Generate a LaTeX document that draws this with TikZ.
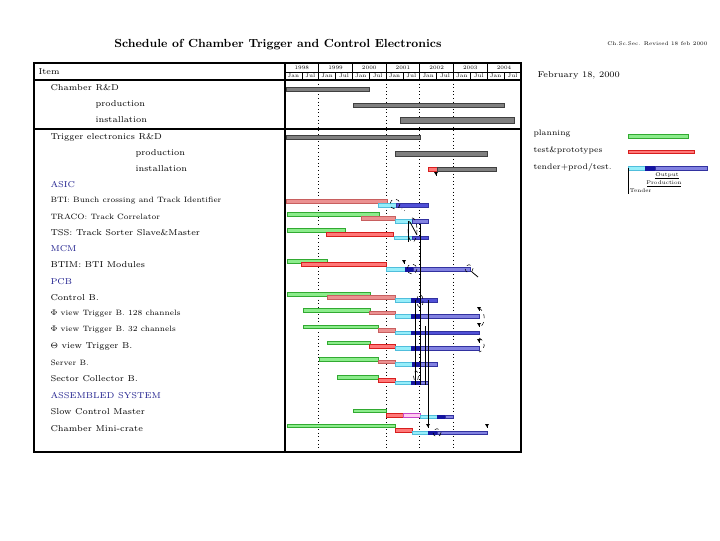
\documentclass[tikz,border=0pt]{standalone}
\usepackage{tikz}

\definecolor{plangreen}{RGB}{140,236,140}
\definecolor{planline}{RGB}{50,170,50}
\definecolor{testred}{RGB}{255,120,120}
\definecolor{testline}{RGB}{215,30,30}
\definecolor{oldred}{RGB}{235,145,145}
\definecolor{oldline}{RGB}{200,95,95}
\definecolor{tendcyan}{RGB}{150,238,250}
\definecolor{tendline}{RGB}{80,190,220}
\definecolor{outblue}{RGB}{20,20,160}
\definecolor{prodblue}{RGB}{130,130,225}
\definecolor{prodblue2}{RGB}{80,80,215}
\definecolor{prodline}{RGB}{50,50,160}
\definecolor{pinkbar}{RGB}{255,205,240}
\definecolor{pinkline}{RGB}{200,70,200}
\definecolor{grpblue}{RGB}{28,28,140}

\tikzset{every picture/.style={line width=0.75pt}}

% one bar of the schedule: style, from, to, row centre
\newcommand{\gbar}[4]{\draw[#1] (#2,#4-1.8) rectangle (#3,#4+1.8);}
% milestone mark
\newcommand{\mstone}[2]{\fill (#1-2,#2-2) -- (#1+2,#2-2) -- (#1,#2+1.2) -- cycle; \draw[line width=0.5pt] (#1,#2) -- (#1,#2+2);}

\begin{document}
\begin{tikzpicture}[x=0.75pt,y=0.75pt,yscale=-1,xscale=1,
  lbl/.style={anchor=west,inner sep=0pt,font=\fontsize{6.4}{7.5}\selectfont},
  slbl/.style={lbl,font=\fontsize{5.8}{7}\selectfont},
  grp/.style={lbl,text=grpblue},
  leg/.style={lbl,font=\fontsize{6}{7}\selectfont},
  hdr/.style={inner sep=0pt,font=\fontsize{4}{4.5}\selectfont},
  plan/.style={draw=planline,fill=plangreen,line width=0.3pt},
  test/.style={draw=testline,fill=testred,line width=0.3pt},
  oldtest/.style={draw=oldline,fill=oldred,line width=0.3pt},
  tend/.style={draw=tendline,fill=tendcyan,line width=0.3pt},
  outp/.style={draw=outblue,fill=outblue,line width=0.3pt},
  prod/.style={draw=prodline,fill=prodblue,line width=0.3pt},
  prodd/.style={draw=prodline,fill=prodblue2,line width=0.3pt},
  pinkb/.style={draw=pinkline,fill=pinkbar,line width=0.3pt},
  done/.style={draw=black!75,fill=black!50,line width=0.3pt},
  yeargrid/.style={dotted,line width=0.7pt},
  link/.style={line width=0.6pt},
  ring/.style={dashed,line width=0.4pt}]
    \useasboundingbox (0,0) rectangle (720,540);

    % Title
    \node[font=\fontsize{8.8}{10}\bfseries\selectfont] (title) at (278,45) {Schedule of Chamber Trigger and Control Electronics};
    \node[hdr,anchor=east] (rev) at (708,44) {Ch.Sc.Sec. Revised 18 feb 2000};
    \node[lbl] (date) at (537,75) {February 18, 2000};

    %Shape: Frame
    \draw[line width=1.4pt] (34,63) rectangle (521,452);
    \draw[line width=1.4pt] (285,63) -- (285,452);
    \draw[line width=1.4pt] (34,80) -- (521,80);
    \draw[line width=1.4pt] (34,129) -- (521,129);
    \draw[line width=0.6pt] (285,72) -- (521,72);
    \foreach \i in {1,...,6} \draw[line width=0.6pt] (285+33.7*\i,63) -- (285+33.7*\i,80);
    \foreach \i in {0,...,6} \draw[line width=0.4pt] (301.85+33.7*\i,72) -- (301.85+33.7*\i,80);
    \foreach \yr [count=\i from 0] in {1998,...,2004} \node[hdr] (y\yr) at (301.85+33.7*\i,67.6) {\yr};
    \foreach \i in {0,...,6} {
      \node[hdr] (jan\i) at (293.4+33.7*\i,76.2) {Jan};
      \node[hdr] (jul\i) at (310.3+33.7*\i,76.2) {Jul};
    }
    % year marks
    \foreach \xg in {318.7,386.1,419.8,453.5} \draw[yeargrid] (\xg,80) -- (\xg,452);

    % Text Node: items
    \node[lbl] (item) at (38,72) {Item};
    \node[lbl] (chrd) at (50,88) {Chamber R\&D};
    \node[lbl] (chprod) at (95,104) {production};
    \node[lbl] (chinst) at (95,120) {installation};
    \node[lbl] (trrd) at (50,137) {Trigger electronics R\&D};
    \node[lbl] (trprod) at (135,153) {production};
    \node[lbl] (trinst) at (135,169) {installation};
    \node[grp] (asic) at (50,185) {ASIC};
    \node[slbl] (bti) at (50,201) {BTI: Bunch crossing and Track Identifier};
    \node[slbl] (traco) at (50,217) {TRACO: Track Correlator};
    \node[lbl] (tss) at (50,233) {TSS: Track Sorter Slave\&Master};
    \node[grp] (mcm) at (50,249) {MCM};
    \node[lbl] (btim) at (50,265) {BTIM: BTI Modules};
    \node[grp] (pcb) at (50,282) {PCB};
    \node[lbl] (ctrl) at (50,298) {Control B.};
    \node[slbl] (phia) at (50,314) {$\Phi$ view Trigger B. 128 channels};
    \node[slbl] (phib) at (50,330) {$\Phi$ view Trigger B. 32 channels};
    \node[lbl] (theta) at (50,346) {$\Theta$ view Trigger B.};
    \node[slbl] (server) at (50,363) {Server B.};
    \node[lbl] (sector) at (50,379) {Sector Collector B.};
    \node[grp] (asm) at (50,396) {ASSEMBLED SYSTEM};
    \node[lbl] (slow) at (50,412) {Slow Control Master};
    \node[lbl] (crate) at (50,429) {Chamber Mini-crate};

    % Chamber
    \draw[done] (286,87) rectangle (369,91);
    \draw[done] (353,103) rectangle (504,107);
    \draw[done] (400,117) rectangle (514,123);
    % Trigger electronics
    \draw[done] (286,135) rectangle (420,139.5);
    \draw[done] (395,151.5) rectangle (487,156.5);
    \draw[test] (428,167) rectangle (437,171);
    \draw[done] (437,167) rectangle (496,171);
    \mstone{436}{174}

    % ASIC
    \gbar{oldtest}{286}{387}{201.3}
    \gbar{tend}{378}{396}{205}
    \gbar{prodd}{396}{428}{205}
    \draw[ring] (395,204) circle (5);
    \draw[dotted,line width=0.4pt] (399,207) -- (405,211);
    \gbar{plan}{287}{379}{214.3}
    \gbar{oldtest}{361}{395}{218.3}
    \gbar{tend}{395}{412}{221.3}
    \gbar{prod}{412}{428}{221.3}
    \gbar{plan}{287}{345}{230.3}
    \gbar{test}{326}{393}{234.3}
    \gbar{tend}{394}{412}{237.7}
    \gbar{prodd}{412}{428}{237.7}
    \draw[ring] (412.5,230) ellipse (4.5 and 12);
    \draw[link] (410,222) -- (417,235);
    \draw[link] (408,221) -- (408,242);

    % MCM
    \gbar{plan}{287}{327}{261.3}
    \gbar{test}{301}{386}{264.3}
    \gbar{tend}{386}{405}{269}
    \gbar{outp}{405}{413}{269}
    \gbar{prod}{413}{470}{269}
    \mstone{404}{262}
    \draw[ring] (412,269) circle (5);
    \draw[ring] (469,268.7) circle (4);
    \draw[link] (472,272) -- (478,277);

    % PCB
    \gbar{plan}{287}{370}{294}
    \gbar{oldtest}{327}{395}{297.3}
    \gbar{tend}{395}{411}{300}
    \gbar{outp}{411}{420}{300}
    \gbar{prodd}{420}{437}{300}
    \draw[ring] (420,301) ellipse (3 and 6.5);
    \gbar{plan}{303}{370}{310}
    \gbar{oldtest}{369}{395}{312.7}
    \gbar{tend}{395}{411}{316}
    \gbar{outp}{411}{420}{316}
    \gbar{prod}{420}{479}{316}
    \gbar{plan}{303}{378}{326.7}
    \gbar{oldtest}{378}{395}{330}
    \gbar{tend}{395}{411}{332.7}
    \gbar{outp}{411}{420}{332.7}
    \gbar{prodd}{420}{479}{332.7}
    \gbar{plan}{327}{370}{342.7}
    \gbar{test}{369}{395}{346}
    \gbar{tend}{395}{411}{348.3}
    \gbar{outp}{411}{420}{348.3}
    \gbar{prod}{420}{479}{348.3}
    \mstone{479}{309}
    \mstone{479}{325}
    \mstone{479}{341}
    \draw[ring] (479,308) .. controls (486,312) and (486,324) .. (479,328);
    \draw[ring] (479,338) .. controls (486,341) and (486,350) .. (479,352);
    \gbar{plan}{319}{378}{359}
    \gbar{oldtest}{378}{395}{361.7}
    \gbar{tend}{395}{412}{364.3}
    \gbar{outp}{412}{420}{364.3}
    \gbar{prod}{420}{437}{364.3}
    \gbar{plan}{337}{378}{377.3}
    \gbar{test}{378}{395}{380}
    \gbar{tend}{395}{411}{382.7}
    \gbar{outp}{411}{420}{382.7}
    \gbar{prod}{420}{428}{382.7}
    \draw[ring] (416,376) ellipse (2.5 and 5);

    % Assembled system
    \gbar{plan}{353}{386}{410.7}
    \gbar{test}{386}{403}{415}
    \gbar{pinkb}{403}{420}{415}
    \gbar{tend}{420}{437}{416.7}
    \gbar{outp}{437}{445}{416.7}
    \gbar{prod}{445}{453}{416.7}
    \gbar{plan}{287}{395}{425.7}
    \gbar{test}{395}{412}{430}
    \gbar{tend}{412}{428}{432.7}
    \gbar{outp}{428}{437}{432.7}
    \gbar{prod}{437}{487}{432.7}
    \mstone{428}{426}
    \mstone{487}{426}
    \draw[ring] (437,432.7) circle (4);

    % links between deliveries
    \draw[link] (420,224) -- (420,385);
    \draw[link] (415,300) -- (415,385);
    \draw[link] (425.7,326) -- (425.7,385);
    \draw[link] (428.3,300) -- (428.3,426);

    % Legend
    \node[leg] (lplan) at (533,134) {planning};
    \node[leg] (ltest) at (533,150) {test\&prototypes};
    \node[leg] (ltend) at (533,167) {tender+prod/test.};
    \gbar{plan}{628}{688}{136}
    \gbar{test}{628}{694}{151.5}
    \gbar{tend}{628}{645}{168}
    \gbar{outp}{645}{655}{168}
    \gbar{prod}{655}{707}{168}
    \draw[line width=0.5pt] (628,168) -- (628,194);
    \node[hdr] (lout) at (667,175) {Output};
    \node[hdr] (lprd) at (664,182.5) {Production};
    \node[hdr,anchor=west] (ltdr) at (629,191) {Tender};
    \draw[line width=0.4pt] (lout.south west) -- (lout.south east);
    \draw[line width=0.4pt] (647,186) -- (681,186);
\end{tikzpicture}
\end{document}
